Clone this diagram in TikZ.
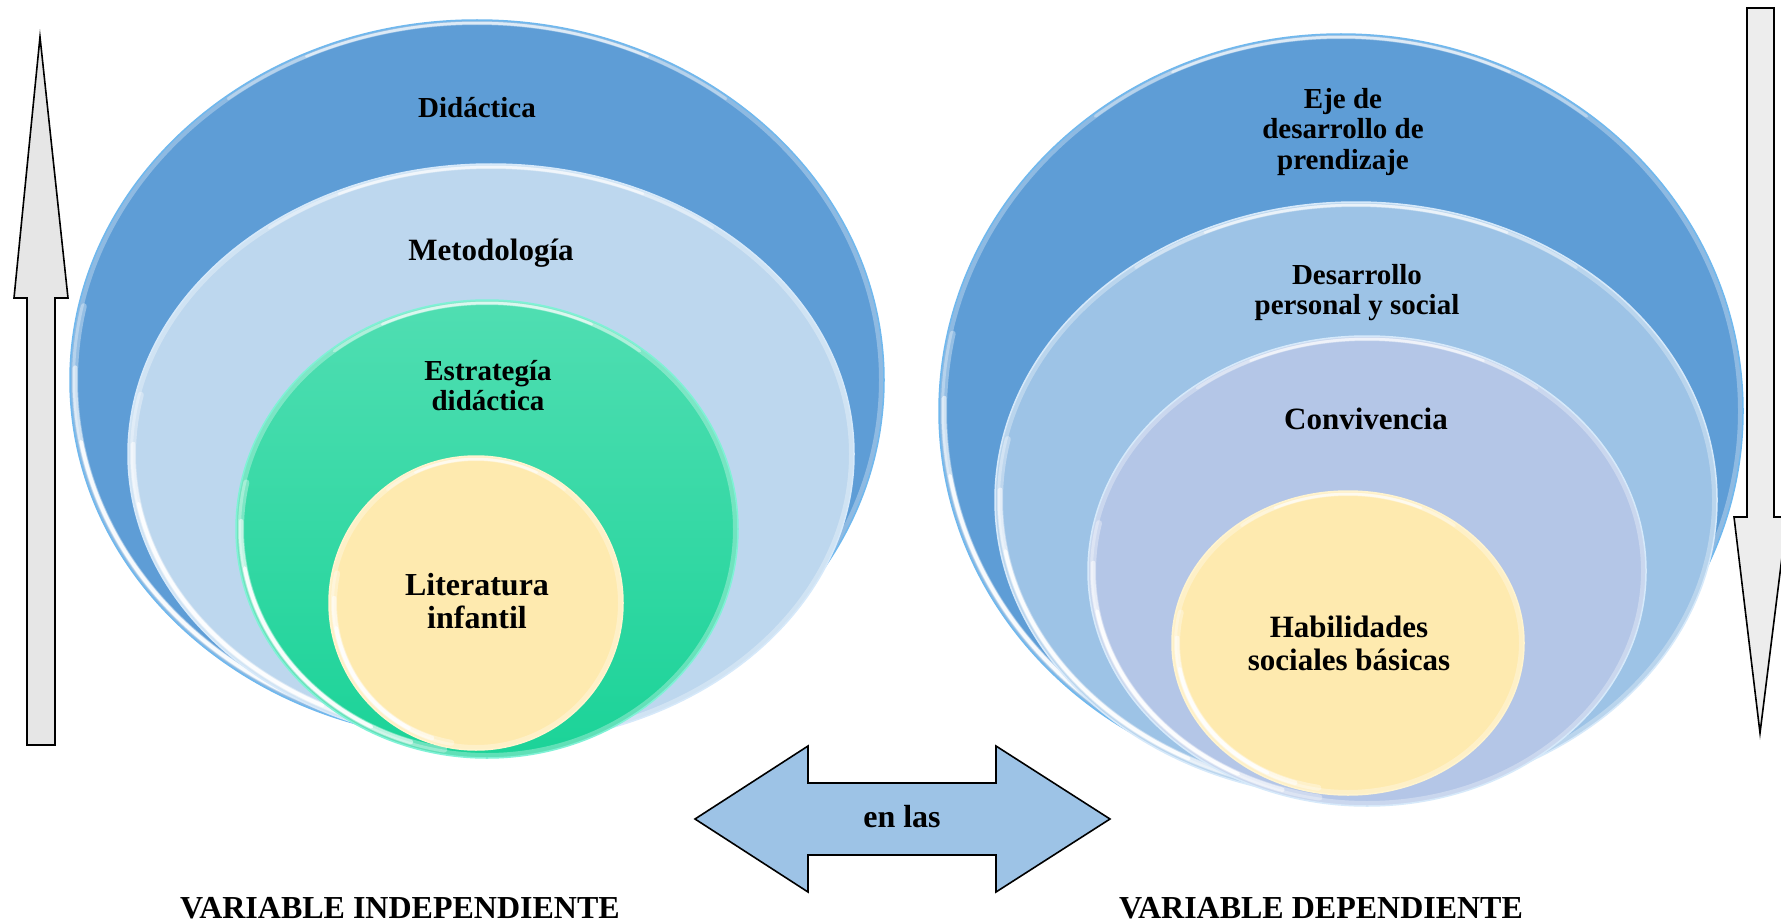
\documentclass[tikz,border=0pt]{standalone}
\usepackage{fontspec}
\setmainfont{Liberation Serif}
\definecolor{blueA}{HTML}{5E9DD6}
\definecolor{blueB}{HTML}{BDD7EE}
\definecolor{greenT}{HTML}{50DEB2}
\definecolor{greenB}{HTML}{1BD398}
\definecolor{yel}{HTML}{FEEAAF}
\definecolor{blueC}{HTML}{9DC3E6}
\definecolor{blueD}{HTML}{B4C6E7}
\definecolor{grayA}{HTML}{E6E6E6}
\definecolor{grayB}{HTML}{EDEDED}
\definecolor{rimA}{HTML}{6FB8EE}
\definecolor{rimB}{HTML}{D6E9FA}
\definecolor{rimG}{HTML}{7FF2D6}
\definecolor{rimY}{HTML}{FFF4CF}
\newcommand{\glossarc}[8]{% cx cy rx ry start end width opacity
  \draw[white, opacity=#8, line width=#7, line cap=round]
    (#1,#2) ++(#5:#3\space and #4) arc[start angle=#5, end angle=#6, x radius=#3, y radius=#4];
}
\newcommand{\glossy}[6]{%
  \pgfmathsetmacro{\gRxa}{#3-5}\pgfmathsetmacro{\gRya}{#4-5}%
  \pgfmathsetmacro{\gRxb}{#3-3}\pgfmathsetmacro{\gRyb}{#4-3}%
  \path[#5] (#1,#2) ellipse [x radius=#3, y radius=#4];
  \begin{scope}
    \clip (#1,#2) ellipse [x radius=#3, y radius=#4];
    \draw[white, opacity=0.3, line width=10] (#1,#2) ellipse [x radius=#3, y radius=#4];
  \end{scope}
  \glossarc{#1}{#2}{\gRxa}{\gRya}{100}{192}{6}{0.35}
  \glossarc{#1}{#2}{\gRxa}{\gRya}{108}{182}{4.5}{0.55}
  \glossarc{#1}{#2}{\gRxa}{\gRya}{118}{170}{3.5}{0.85}
  \glossarc{#1}{#2}{\gRxb}{\gRyb}{232}{308}{3}{0.35}
  \glossarc{#1}{#2}{\gRxb}{\gRyb}{245}{295}{2.5}{0.55}
  \draw[#6, line width=1.5] (#1,#2) ellipse [x radius=#3, y radius=#4];
}
\tikzset{
  lbl/.style={font=\bfseries\fontsize{29}{30}\selectfont, anchor=base, inner sep=0pt},
  lblM/.style={font=\bfseries\fontsize{31}{32}\selectfont, anchor=base, inner sep=0pt},
  lblL/.style={font=\bfseries\fontsize{32}{33}\selectfont, anchor=base, inner sep=0pt},
  blockarrow/.style={draw=black, line width=1.6, line join=miter}
}
\begin{document}
\begin{tikzpicture}[x=1pt,y=-1pt]
\clip (0,0) rectangle (1781,923);
\fill[white] (0,0) rectangle (1781,923);
% left nest
\glossy{477}{380}{407}{360}{fill=blueA}{rimA}
\glossy{491}{454}{363}{290}{fill=blueB}{rimB}
\glossy{487}{529}{251}{229}{shade, top color=greenT, bottom color=greenB}{rimG}
\glossy{476}{603}{147}{147}{fill=yel}{rimY}
% right nest
\glossy{1341}{411}{402}{377}{fill=blueA}{rimA}
\glossy{1356}{500}{361}{298}{fill=blueC}{rimB}
\glossy{1367}{571}{279}{235}{fill=blueD}{rimB}
\glossy{1348}{643}{176}{152}{fill=yel}{rimY}
% arrows
\draw[blockarrow, fill=grayA] (40,37) coordinate (upTip) -- (68,298) -- (55,298) -- (55,745) -- (27,745) -- (27,298) -- (14,298) -- cycle;
\draw[blockarrow, fill=grayB] (1747,8) -- (1774,8) -- (1774,517) -- (1787,517) -- (1760,733) coordinate (downTip) -- (1734,517) -- (1747,517) -- cycle;
\draw[blockarrow, fill=blueC] (695,819) -- (808,746) -- (808,783) -- (996,783) -- (996,746) -- (1110,819) -- (996,892) -- (996,855) -- (808,855) -- (808,892) -- cycle;
% texts
\node[lbl] (t1) at (477,118) {Didáctica};
\node[lblM] (t2) at (491,260) {Metodología};
\node[lbl] (t3a) at (488,380) {Estrategía};
\node[lbl] (t3b) at (488,410) {didáctica};
\node[lblL] (t4a) at (477,595) {Literatura};
\node[lblL] (t4b) at (477,628) {infantil};
\node[lbl] (r1a) at (1343,109) {Eje de};
\node[lbl] (r1b) at (1343,139) {desarrollo de};
\node[lbl] (r1c) at (1343,169) {prendizaje};
\node[lbl] (r2a) at (1357,284) {Desarrollo};
\node[lbl] (r2b) at (1357,314) {personal y social};
\node[lblM] (r3) at (1366,429) {Convivencia};
\node[lblM] (r4a) at (1349,637) {Habilidades};
\node[lblM] (r4b) at (1349,670) {sociales básicas};
\node[lblL] (en) at (902,827) {en las};
\node[lblL] (vi) at (400,918) {VARIABLE INDEPENDIENTE};
\node[lblL] (vd) at (1321,918) {VARIABLE DEPENDIENTE};
\end{tikzpicture}
\end{document}
